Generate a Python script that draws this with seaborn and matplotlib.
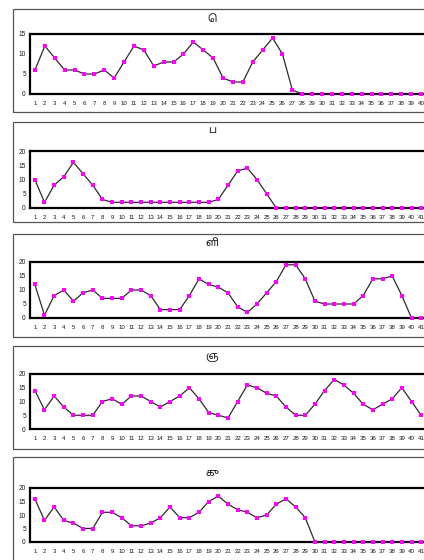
import numpy as np
import matplotlib
matplotlib.use('Agg')
import matplotlib.pyplot as plt
import matplotlib.font_manager as fm
from matplotlib.patches import Rectangle
import seaborn as sns

# ===============================
# Data
# ===============================
titles = ['ெ', 'ப', 'ளி', 'ஞ', 'கு']

vals_e = [6, 12, 9, 6, 6, 5, 5, 6, 4, 8, 12, 11, 7, 8, 8, 10, 13, 11, 9, 4,
          3, 3, 8, 11, 14, 10, 1, 0, 0, 0, 0, 0, 0, 0, 0, 0, 0, 0, 0, 0]
vals_pa = [10, 2, 8, 11, 16, 12, 8, 3, 2, 2, 2, 2, 2, 2, 2, 2, 2, 2, 2, 3,
           8, 13, 14, 10, 5, 0, 0, 0, 0, 0, 0, 0, 0, 0, 0, 0, 0, 0, 0, 0, 0]
vals_li = [12, 1, 8, 10, 6, 9, 10, 7, 7, 7, 10, 10, 8, 3, 3, 3, 8, 14, 12, 11,
           9, 4, 2, 5, 9, 13, 19, 19, 14, 6, 5, 5, 5, 5, 8, 14, 14, 15, 8, 0, 0]
vals_nya = [14, 7, 12, 8, 5, 5, 5, 10, 11, 9, 12, 12, 10, 8, 10, 12, 15, 11, 6, 5,
            4, 10, 16, 15, 13, 12, 8, 5, 5, 9, 14, 18, 16, 13, 9, 7, 9, 11, 15, 10, 5]
vals_ku = [16, 8, 13, 8, 7, 5, 5, 11, 11, 9, 6, 6, 7, 9, 13, 9, 9, 11, 15, 17,
           14, 12, 11, 9, 10, 14, 16, 13, 9, 0, 0, 0, 0, 0, 0, 0, 0, 0, 0, 0, 0]
series = [vals_e, vals_pa, vals_li, vals_nya, vals_ku]
y_max = [15, 20, 20, 20, 20]

# ===============================
# Fonts
# ===============================
sns.set_style('white')
installed = {f.name for f in fm.fontManager.ttflist}
tamil_pref = [n for n in ['Noto Sans Tamil', 'Lohit Tamil', 'FreeSans', 'Anek Tamil']
              if n in installed]
plt.rcParams['font.family'] = ['Liberation Sans', 'DejaVu Sans']
title_family = tamil_pref[:1] + ['DejaVu Sans']

# ===============================
# Layout (pixel boxes of the page)
# ===============================
W, H = 424, 560
# outer top, outer bottom, title y, inner top, inner bottom
boxes = [(9, 112, 19, 34, 94),
         (122, 222, 130, 151, 208),
         (234, 337, 243, 262, 318),
         (346, 449, 357, 374, 429),
         (457, 575, 473, 488, 542)]

fig = plt.figure(figsize=(W / 100, H / 100), dpi=100)

for vals, ymax, title, (ot, ob, ty, it, ib) in zip(series, y_max, titles, boxes):
    # outer frame
    fig.patches.append(Rectangle((13 / W, 1 - ob / H), 1.0, (ob - ot) / H,
                                 transform=fig.transFigure, fill=False,
                                 edgecolor='#555555', linewidth=0.9))
    fig.text(212 / W, 1 - ty / H, title, ha='center', va='center',
             fontsize=7.5, family=title_family, color='#111111')

    ax = fig.add_axes([30 / W, 1 - ib / H, 396 / W, (ib - it) / H])
    ax.patch.set_alpha(0)
    n = len(vals)
    x = np.arange(1, n + 1)
    sns.lineplot(x=x, y=vals, ax=ax, color='#2b2b2b', linewidth=0.9,
                 marker='s', markersize=2.4, markerfacecolor='#ff00ff',
                 markeredgecolor='#ff00ff', markeredgewidth=0)
    ax.lines[0].set_clip_on(False)
    ax.lines[0].set_zorder(3)
    ax.set_xlim(0.5, n + 0.5)
    ax.set_ylim(0, ymax)
    ax.set_xticks(x)
    ax.set_xticklabels([str(i) for i in x])
    ax.set_xticks(np.arange(0.5, n + 1), minor=True)
    ax.set_yticks(np.arange(0, ymax + 1, 5))
    ax.tick_params(axis='x', which='major', length=0, pad=5, labelsize=4.4,
                   labelcolor='#1a1a1a')
    ax.tick_params(axis='x', which='minor', length=2.5, direction='inout',
                   width=0.5, color='#333333')
    ax.tick_params(axis='y', length=0, pad=3, labelsize=4.7, labelcolor='#1a1a1a')
    for s in ax.spines.values():
        s.set_linewidth(1.6)
        s.set_color('black')

fig.savefig('out.png', dpi=100)
